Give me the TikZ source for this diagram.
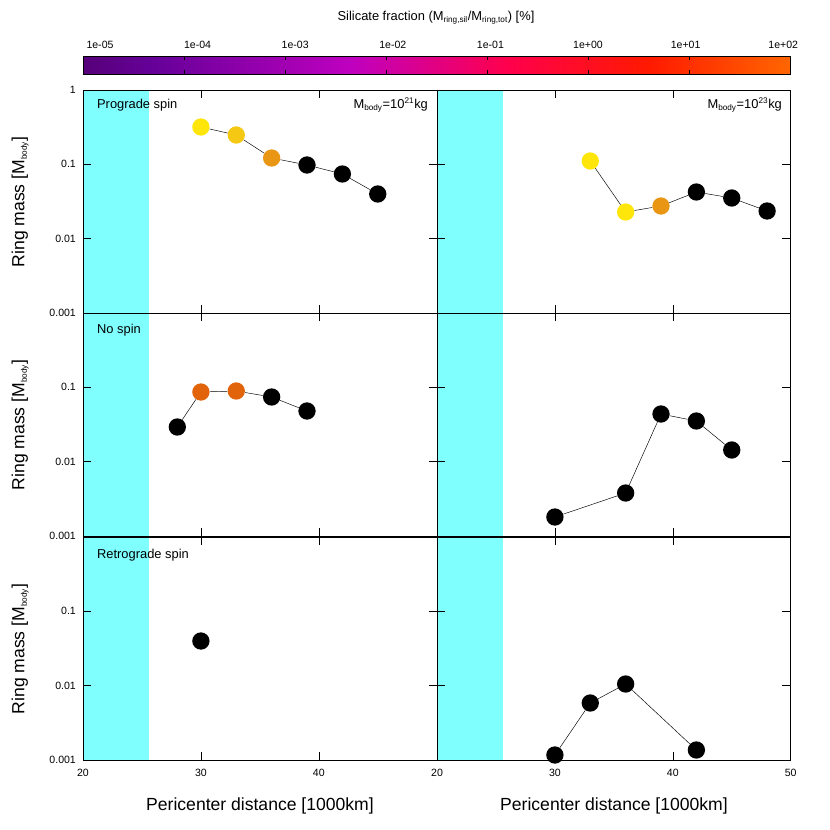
\documentclass[tikz,border=0pt]{standalone}
\usepackage{fontspec}
\setmainfont{Liberation Sans}
\usetikzlibrary{positioning}
\definecolor{cband}{RGB}{128,255,255}
\definecolor{cyel}{RGB}{255,230,10}
\definecolor{cgold}{RGB}{245,200,20}
\definecolor{corg}{RGB}{232,150,20}
\definecolor{cdorg}{RGB}{225,100,10}
\pgfdeclarehorizontalshading{silbar}{100bp}{color(0bp)=(black); color(14bp)=(black!60!violet); color(30bp)=(violet!80!blue); color(44bp)=(violet!50!magenta); color(55bp)=(red!70!magenta); color(65bp)=(red!80!orange); color(75bp)=(orange!80!red); color(88bp)=(orange!60!yellow); color(100bp)=(yellow)}
\newcommand\pp[3]{({83+#3+(#1-20)*11.79},{#2})}
\newcommand\sub[1]{$_{\mbox{\scriptsize #1}}$}
\begin{document}
\begin{tikzpicture}[x=0.03cm,y=-0.03cm, font=\fontsize{9}{10}\selectfont,
  dot/.style={circle, minimum size=0.52cm, inner sep=0pt, fill=black},
  ttl/.style={font=\fontsize{15}{17}\selectfont}]
\useasboundingbox (0,0) rectangle (830,830);
% colour bar
\shade[shading=silbar] (83,56) rectangle (790,74);
\draw (83,56) rectangle (790,74);
\node[font=\fontsize{11}{12}\selectfont] (bartitle) at (436,18) {Silicate fraction (M\sub{ring,sil}/M\sub{ring,tot}) [\%]};
\foreach \l [count=\i from 0] in {1e-05,1e-04,1e-03,1e-02,1e-01,1e+00,1e+01,1e+02} {
  \draw ({83+\i*101},56) -- ++(0,4) ({83+\i*101},74) -- ++(0,-4);
  \node (cb\i) at ({100+\i*97.6},45) {\l};
}
% panels
\foreach \r/\top in {0/90,1/313,2/537} {
  \fill[cband] (83,\top) rectangle (149,{\top+223});
  \fill[cband] (437,\top) rectangle (503,{\top+223});
  \draw (83,\top) rectangle (790,{\top+223});
  \draw (437,\top) -- (437,{\top+223});
  \foreach \d in {0,1,2,3} {
    \draw (83,{\top+\d*74.33}) -- ++(8,0) (437,{\top+\d*74.33}) -- ++(-8,0)
          (437,{\top+\d*74.33}) -- ++(8,0) (790,{\top+\d*74.33}) -- ++(-8,0);
  }
  \foreach \d in {30,40} {
    \draw \pp{\d}{\top}{0} -- ++(0,8) \pp{\d}{\top+223}{0} -- ++(0,-8)
          \pp{\d}{\top}{354} -- ++(0,8) \pp{\d}{\top+223}{354} -- ++(0,-8);
  }
  \node[rotate=90, ttl] (ylab\r) at (20,{\top+112}) {Ring mass [M\sub{body}]};
  \foreach \v [count=\j from 1] in {0.1,0.01,0.001} \node[left] at (80,{\top+\j*74.33}) {\v};
}
\node[left] (yone) at (80,90) {1};
\foreach \d in {20,30,40} \node (xl\d) at \pp{\d}{773}{0} {\d};
\foreach \d in {20,30,40,50} \node (xr\d) at \pp{\d}{773}{354} {\d};
\node[ttl] (xtl) at (260,806) {Pericenter distance [1000km]};
\node[ttl] (xtr) at (614,806) {Pericenter distance [1000km]};
\node[right, font=\fontsize{11}{12}\selectfont] (pro) at (93,105) {Prograde spin};
\node[right, font=\fontsize{11}{12}\selectfont] (nos) at (93,330) {No spin};
\node[right, font=\fontsize{11}{12}\selectfont] (ret) at (93,555) {Retrograde spin};
\node[left, font=\fontsize{11}{12}\selectfont] (mb1) at (432,105) {M\sub{body}=10$^{\mbox{\scriptsize 21}}$kg};
\node[left, font=\fontsize{11}{12}\selectfont] (mb2) at (786,105) {M\sub{body}=10$^{\mbox{\scriptsize 23}}$kg};
% data
\node[dot, fill=cyel]  (a1) at \pp{30}{127}{0} {};
\node[dot, fill=cgold] (a2) at \pp{33}{135}{0} {};
\node[dot, fill=corg]  (a3) at \pp{36}{158}{0} {};
\node[dot] (a4) at \pp{39}{165}{0} {};
\node[dot] (a5) at \pp{42}{174}{0} {};
\node[dot] (a6) at \pp{45}{194}{0} {};
\draw (a1) -- (a2) -- (a3) -- (a4) -- (a5) -- (a6);
\node[dot, fill=cyel]  (b1) at \pp{33}{161}{354} {};
\node[dot, fill=cyel]  (b2) at \pp{36}{212}{354} {};
\node[dot, fill=corg]  (b3) at \pp{39}{206}{354} {};
\node[dot] (b4) at \pp{42}{192}{354} {};
\node[dot] (b5) at \pp{45}{198}{354} {};
\node[dot] (b6) at \pp{48}{211}{354} {};
\draw (b1) -- (b2) -- (b3) -- (b4) -- (b5) -- (b6);
\node[dot] (c1) at \pp{28}{427}{0} {};
\node[dot, fill=cdorg] (c2) at \pp{30}{392}{0} {};
\node[dot, fill=cdorg] (c3) at \pp{33}{391}{0} {};
\node[dot] (c4) at \pp{36}{397}{0} {};
\node[dot] (c5) at \pp{39}{411}{0} {};
\draw (c1) -- (c2) -- (c3) -- (c4) -- (c5);
\node[dot] (d1) at \pp{30}{517}{354} {};
\node[dot] (d2) at \pp{36}{493}{354} {};
\node[dot] (d3) at \pp{39}{414}{354} {};
\node[dot] (d4) at \pp{42}{421}{354} {};
\node[dot] (d5) at \pp{45}{450}{354} {};
\draw (d1) -- (d2) -- (d3) -- (d4) -- (d5);
\node[dot] (e1) at \pp{30}{641}{0} {};
\node[dot] (f1) at \pp{30}{755}{354} {};
\node[dot] (f2) at \pp{33}{703}{354} {};
\node[dot] (f3) at \pp{36}{684}{354} {};
\node[dot] (f4) at \pp{42}{750}{354} {};
\draw (f1) -- (f2) -- (f3) -- (f4);
\end{tikzpicture}
\end{document}
